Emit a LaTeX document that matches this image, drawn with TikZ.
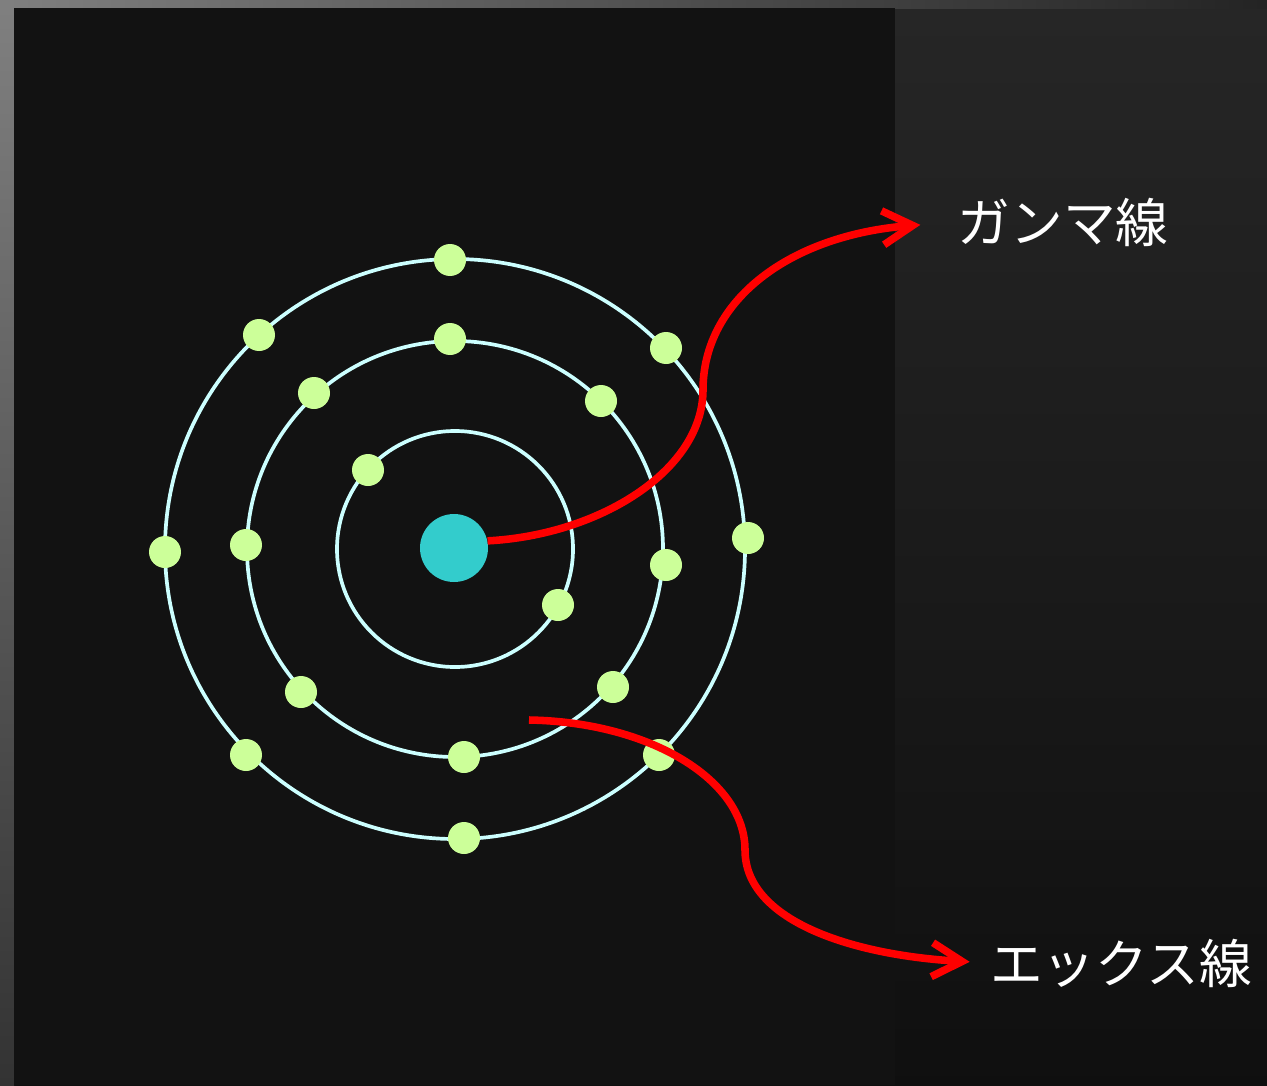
\documentclass[tikz,border=0pt]{standalone}
\usepackage{fontspec}
\newfontfamily\jpfont{Noto Sans CJK JP}
\usetikzlibrary{arrows.meta}
\definecolor{nuccyan}{HTML}{33CCCC}
\definecolor{elgreen}{HTML}{CCFF99}
\definecolor{orbcyan}{HTML}{CCFFFF}
\definecolor{raynred}{HTML}{FF0000}
\begin{document}
\begin{tikzpicture}
[x=0.02cm,y=-0.02cm,>={Straight Barb[length=0.6cm,width=0.68cm]},
 electron/.style = {circle, fill = elgreen, inner sep = 0pt, minimum size = 0.64cm},
 nucleus/.style = {circle, fill = nuccyan, inner sep = 0pt, minimum size = 1.36cm},
 orbit/.style = {draw = orbcyan, line width = 2.1pt},
 ray/.style = {draw = raynred, line width = 4.3pt, ->},
 raytext/.style = {text = white, inner sep = 0pt, font = \jpfont\fontsize{30}{36}\selectfont},]
\useasboundingbox (0,0) rectangle (1267,1085);
% backdrop
\fill[top color = black!85, bottom color = black!94] (0,0) rectangle (1267,1085);
\fill[top color = black!50, bottom color = black!80] (0,0) rectangle (14,1085);
\fill[left color = black!50, middle color = black!78, right color = black!86] (0,0) rectangle (1267,8);
\fill[black!93] (14,8) rectangle (895,1085);
% shells
\coordinate (ctr) at (455,549);
\draw[orbit] (ctr) circle[radius=118];
\draw[orbit] (ctr) circle[radius=208];
\draw[orbit] (ctr) circle[radius=290];
% outer shell
\node (o1) at (450,260)[electron] {};
\node (o2) at (259,335)[electron] {};
\node (o3) at (666,348)[electron] {};
\node (o4) at (165,552)[electron] {};
\node (o5) at (748,538)[electron] {};
\node (o6) at (246,755)[electron] {};
\node (o7) at (659,755)[electron] {};
\node (o8) at (464,838)[electron] {};
% middle shell
\node (m1) at (450,339)[electron] {};
\node (m2) at (314,393)[electron] {};
\node (m3) at (601,401)[electron] {};
\node (m4) at (246,545)[electron] {};
\node (m5) at (666,565)[electron] {};
\node (m6) at (301,692)[electron] {};
\node (m7) at (613,687)[electron] {};
\node (m8) at (464,757)[electron] {};
% inner shell
\node (i1) at (368,470)[electron] {};
\node (i2) at (558,605)[electron] {};
\node (nuc) at (454,548)[nucleus] {};
% labels and rays
\node (gamma) at (1063,222)[raytext] {ガンマ線};
\node (xray) at (1121,963)[raytext] {エックス線};
\coordinate (xsrc) at (529,720);
\draw[ray, shorten >=0.74cm] (nuc.12) .. controls (600,535) and (703,470) .. (703,390)
  .. controls (703,300) and (790,235) .. (gamma.west);
\draw[ray, shorten >=0.4cm] (xsrc) .. controls (650,722) and (745,780) .. (745,850)
  .. controls (745,920) and (850,955) .. (xray.west);
\end{tikzpicture}
\end{document}
